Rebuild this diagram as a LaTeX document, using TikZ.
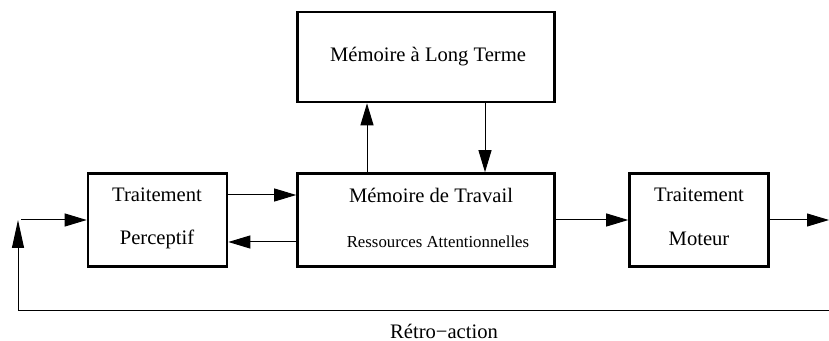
\documentclass[tikz,border=0pt]{standalone}
\usepackage{fontspec}
\setmainfont{Liberation Serif}
\usetikzlibrary{arrows.meta}

\begin{document}
\begin{tikzpicture}[x=0.5pt,y=-0.5pt,
  box/.style={draw,line width=1.3pt,inner sep=0pt},
  big/.style={font=\fontsize{10.3}{12}\selectfont,inner sep=0pt},
  small/.style={font=\fontsize{8.4}{10}\selectfont,inner sep=0pt},
  arr/.style={line width=0.5pt,-{Triangle[length=11pt,width=6.5pt]}}]
\useasboundingbox (0,0) rectangle (829,341);
% boxes
\node[box,minimum width=128.5pt,minimum height=45pt] (ltm) at (426,57) {};
\node[box,minimum width=128.5pt,minimum height=46.5pt] (wm) at (426,220) {};
\node[box,minimum width=69.5pt,minimum height=46.5pt] (perc) at (157.5,220) {};
\node[box,minimum width=69.5pt,minimum height=46.5pt] (mot) at (699,220) {};
% texts
\node[big] (ltmtxt) at (428,57) {Mémoire à Long Terme};
\node[big] (wmtxt) at (431,195) {Mémoire de Travail};
\node[small] (wmres) at (438,242) {Ressources Attentionnelles};
\node[big] (perc1) at (157,195) {Traitement};
\node[big] (perc2) at (157,239) {Perceptif};
\node[big] (mot1) at (699,195) {Traitement};
\node[big] (mot2) at (699,239) {Moteur};
\node[big] (retro) at (444,331) {Rétro−action};
% free ends
\coordinate (out) at (829,220);
\coordinate (fbR) at (829,311);
\coordinate (fbL) at (18,311);
\coordinate (fbtip) at (18,220);
\coordinate (fbin) at (21,220);

\draw[arr] ([yshift=12.5pt]perc.east) -- ([yshift=12.5pt]wm.west);
\draw[arr] ([yshift=-11pt]wm.west) -- ([yshift=-11pt]perc.east);
\draw[arr] (wm.east) -- (mot.west);
\draw[arr] (mot.east) -- (out);
\draw[arr] ([xshift=-29.5pt]wm.north) -- ([xshift=-29.5pt]ltm.south);
\draw[arr] ([xshift=29.5pt]ltm.south) -- ([xshift=29.5pt]wm.north);
\draw[line width=0.5pt,-{Triangle[length=14pt,width=6pt]}] (fbR) -- (fbL) -- (fbtip);
\draw[arr] (fbin) -- (perc.west);
\end{tikzpicture}
\end{document}
